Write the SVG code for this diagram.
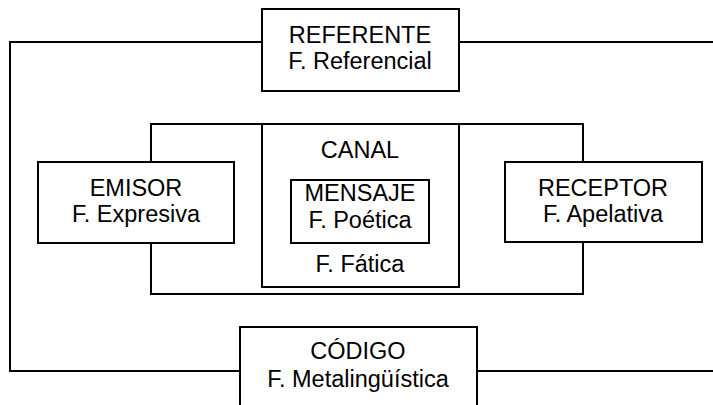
<svg xmlns="http://www.w3.org/2000/svg" width="713" height="405" viewBox="0 0 713 405">
<style>
  .box { fill: #fff; stroke: #000; stroke-width: 2; }
  .line { fill: none; stroke: #000; stroke-width: 2; }
  text { font-family: "Liberation Sans", Arial, sans-serif; font-size: 23.5px; fill: #000; text-anchor: middle; }
</style>
<rect x="0" y="0" width="713" height="405" fill="#fff"/>
<g id="connectors">
  <path class="line" d="M713 42 H10 V371 H713"/>
  <rect class="line" x="151" y="124" width="432" height="170"/>
</g>
<g id="referente">
  <rect class="box" x="262" y="9" width="197" height="82"/>
  <text x="360" y="43">REFERENTE</text>
  <text x="360" y="69">F. Referencial</text>
</g>
<g id="canal">
  <rect class="box" x="262" y="124" width="197" height="163"/>
  <text x="360" y="158">CANAL</text>
  <text x="360" y="272">F. Fática</text>
</g>
<g id="mensaje">
  <rect class="box" x="291" y="180" width="138" height="63"/>
  <text x="360" y="201">MENSAJE</text>
  <text x="360" y="228">F. Poética</text>
</g>
<g id="emisor">
  <rect class="box" x="38" y="162" width="196" height="81"/>
  <text x="136" y="196">EMISOR</text>
  <text x="136" y="222">F. Expresiva</text>
</g>
<g id="receptor">
  <rect class="box" x="505" y="162" width="197" height="80"/>
  <text x="603" y="196">RECEPTOR</text>
  <text x="603" y="222">F. Apelativa</text>
</g>
<g id="codigo">
  <rect class="box" x="240" y="327" width="237" height="90"/>
  <text x="358" y="359">CÓDIGO</text>
  <text x="358" y="387">F. Metalingüística</text>
</g>
</svg>
